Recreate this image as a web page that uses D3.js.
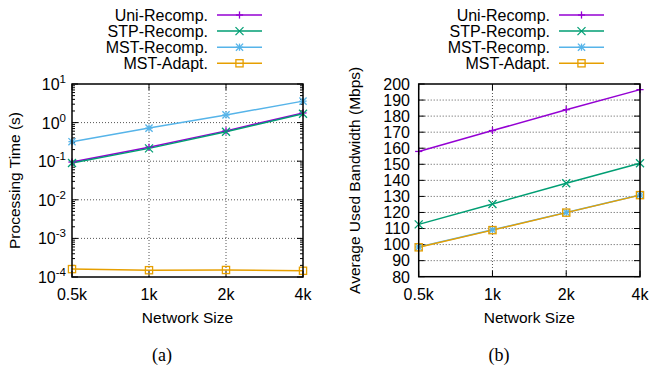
<!DOCTYPE html>
<html>
<head>
<meta charset="utf-8">
<script src="https://cdn.jsdelivr.net/npm/d3@7"></script>
<style>
  body { margin: 0; background: #fff; }
  svg text { font-family: "Liberation Sans", Arial, sans-serif; fill: #000; }
</style>
</head>
<body>
<svg id="chart" width="649" height="368"></svg>
<script>
// network sizes on the x axis
const sizes = ["0.5k", "1k", "2k", "4k"];
const seriesNames = ["Uni-Recomp.", "STP-Recomp.", "MST-Recomp.", "MST-Adapt."];

// (a) processing time in seconds
const timeUni = [0.095, 0.23, 0.61, 1.78];
const timeStp = [0.09, 0.215, 0.58, 1.7];
const timeMstRecomp = [0.32, 0.72, 1.58, 3.6];
const timeMstAdapt = [1.6e-4, 1.5e-4, 1.52e-4, 1.45e-4];

// (b) average used bandwidth in Mbps
const bwUni = [158, 171, 184, 196.5];
const bwStp = [112.6, 125.3, 138.2, 150.6];
const bwMstRecomp = [98.5, 109.2, 120, 130.9];
const bwMstAdapt = [98.3, 109, 119.9, 130.8];

const bwTicks = [80, 90, 100, 110, 120, 130, 140, 150, 160, 170, 180, 190, 200];
const timeExponents = [-4, -3, -2, -1, 0, 1];

const colors = ["#9400d3", "#009e73", "#56b4e9", "#e69f00"];
const markers = ["plus", "cross", "star", "square"];

const svg = d3.select("#chart");

function drawMarker(g, type, x, y, color) {
    const s = type === "cross" ? 4 : 3.6;
    const m = g.append("g").attr("transform", `translate(${x},${y})`)
        .attr("stroke", color).attr("stroke-width", 1.3).attr("fill", "none");
    if (type === "plus" || type === "star") {
        m.append("line").attr("x1", -s).attr("x2", s).attr("y1", 0).attr("y2", 0);
        m.append("line").attr("x1", 0).attr("x2", 0).attr("y1", -s).attr("y2", s);
    }
    if (type === "cross" || type === "star") {
        m.append("line").attr("x1", -s).attr("x2", s).attr("y1", -s).attr("y2", s);
        m.append("line").attr("x1", -s).attr("x2", s).attr("y1", s).attr("y2", -s);
    }
    if (type === "square") {
        m.append("rect").attr("x", -s).attr("y", -s).attr("width", 2 * s).attr("height", 2 * s);
    }
}

function drawPanel(p) {
    const g = svg.append("g");
    const x = d3.scalePoint().domain(sizes).range([p.left, p.right]).padding(0);
    const y = p.yScale.range([p.bottom, p.top]);

    // grid
    sizes.slice(1, -1).forEach(s => {
        g.append("line").attr("x1", x(s)).attr("x2", x(s)).attr("y1", p.top).attr("y2", p.bottom)
            .attr("stroke", "#555").attr("stroke-dasharray", "1,2");
    });
    p.gridValues.forEach(v => {
        g.append("line").attr("x1", p.left).attr("x2", p.right).attr("y1", y(v)).attr("y2", y(v))
            .attr("stroke", "#555").attr("stroke-dasharray", "1,2");
    });

    // minor + major ticks on both sides
    p.minorValues.forEach(v => {
        [[p.left, 3], [p.right, -3]].forEach(([x0, d]) => {
            g.append("line").attr("x1", x0).attr("x2", x0 + d).attr("y1", y(v)).attr("y2", y(v))
                .attr("stroke", "#000");
        });
    });
    p.majorValues.forEach(v => {
        [[p.left, 6], [p.right, -6]].forEach(([x0, d]) => {
            g.append("line").attr("x1", x0).attr("x2", x0 + d).attr("y1", y(v)).attr("y2", y(v))
                .attr("stroke", "#000");
        });
    });
    sizes.forEach(s => {
        [[p.bottom, -6], [p.top, 6]].forEach(([y0, d]) => {
            g.append("line").attr("x1", x(s)).attr("x2", x(s)).attr("y1", y0).attr("y2", y0 + d)
                .attr("stroke", "#000");
        });
    });

    // series
    p.series.forEach((vals, i) => {
        const line = d3.line().x((d, j) => x(sizes[j])).y(d => y(d));
        g.append("path").datum(vals).attr("d", line)
            .attr("fill", "none").attr("stroke", colors[i]).attr("stroke-width", 1.5);
    });
    p.series.forEach((vals, i) => {
        vals.forEach((v, j) => drawMarker(g, markers[i], x(sizes[j]), y(v), colors[i]));
    });

    // border
    g.append("rect").attr("x", p.left).attr("y", p.top)
        .attr("width", p.right - p.left).attr("height", p.bottom - p.top)
        .attr("fill", "none").attr("stroke", "#000").attr("stroke-width", 1.5);

    // y tick labels
    p.majorValues.forEach(v => p.yLabel(g, v, y(v)));

    // x tick labels
    sizes.forEach(s => {
        g.append("text").attr("x", x(s)).attr("y", 300).attr("text-anchor", "middle")
            .style("font-size", "16px").text(s);
    });

    // axis titles
    g.append("text").attr("x", (p.left + p.right) / 2).attr("y", 323).attr("text-anchor", "middle")
        .style("font-size", "15.5px").text("Network Size");
    g.append("text").attr("transform", `translate(${p.titleX},${(p.top + p.bottom) / 2}) rotate(-90)`)
        .attr("text-anchor", "middle").style("font-size", "15.5px").text(p.yTitle);

    // caption
    g.append("text").attr("x", p.captionX).attr("y", 361).attr("text-anchor", "middle")
        .style("font-family", "'Liberation Serif', 'Times New Roman', serif")
        .style("font-size", "18px").text(p.caption);

    // legend
    seriesNames.forEach((name, i) => {
        const ly = 15 + i * 16.1;
        g.append("text").attr("x", p.legendX).attr("y", ly + 5.5).attr("text-anchor", "end")
            .style("font-size", "16px").text(name);
        g.append("line").attr("x1", p.legendX + 9).attr("x2", p.legendX + 54)
            .attr("y1", ly).attr("y2", ly).attr("stroke", colors[i]).attr("stroke-width", 1.5);
        drawMarker(g, markers[i], p.legendX + 31.5, ly, colors[i]);
    });
}

// (a) log-scale processing time
const timeMajors = timeExponents.map(e => Math.pow(10, e));
const timeMinors = [];
timeExponents.slice(0, -1).forEach(e => {
    for (let k = 2; k <= 9; k++) timeMinors.push(k * Math.pow(10, e));
});

drawPanel({
    left: 72, right: 303, top: 84, bottom: 277,
    yScale: d3.scaleLog().domain([1e-4, 10]),
    series: [timeUni, timeStp, timeMstRecomp, timeMstAdapt],
    gridValues: timeMajors.slice(1, -1),
    majorValues: timeMajors,
    minorValues: timeMinors,
    yLabel: (g, v, yy) => {
        const e = Math.round(Math.log10(v));
        const t = g.append("text").attr("x", 66).attr("y", yy + 6).attr("text-anchor", "end")
            .style("font-size", "16px");
        t.append("tspan").text("10");
        t.append("tspan").attr("dy", -7).style("font-size", "11.5px").text(e);
    },
    yTitle: "Processing Time (s)",
    titleX: 20,
    caption: "(a)",
    captionX: 162,
    legendX: 208
});

// (b) linear bandwidth
drawPanel({
    left: 418.7, right: 640, top: 84, bottom: 276.7,
    yScale: d3.scaleLinear().domain([80, 200]),
    series: [bwUni, bwStp, bwMstRecomp, bwMstAdapt],
    gridValues: bwTicks.slice(1, -1),
    majorValues: bwTicks,
    minorValues: [],
    yLabel: (g, v, yy) => {
        g.append("text").attr("x", 410).attr("y", yy + 5.8).attr("text-anchor", "end")
            .style("font-size", "16px").text(v);
    },
    yTitle: "Average Used Bandwidth (Mbps)",
    titleX: 360,
    caption: "(b)",
    captionX: 499,
    legendX: 550
});
</script>
</body>
</html>
